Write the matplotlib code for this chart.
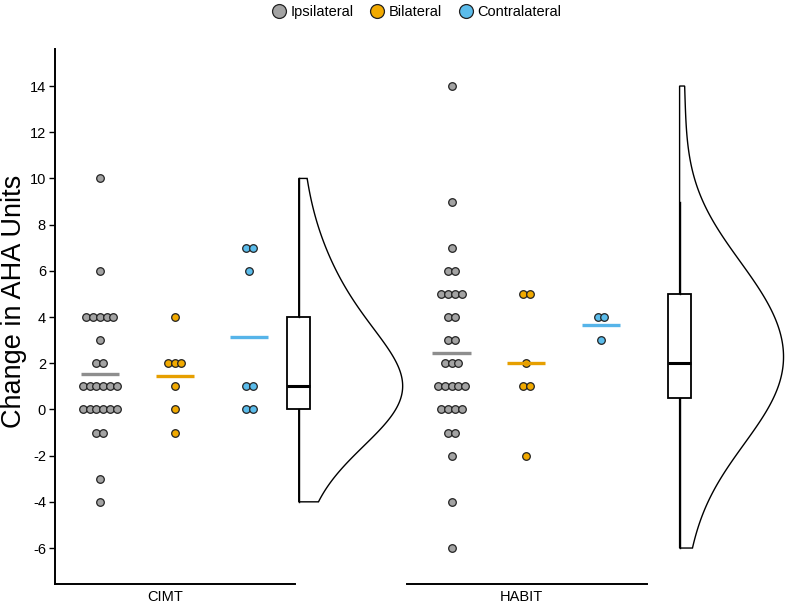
"""
Raincloud-style chart: change in AHA units by therapy (CIMT / HABIT)
and side of lesion (ipsilateral / bilateral / contralateral).
Run: python plot.py
"""

import numpy as np
import matplotlib
matplotlib.use("Agg")
import matplotlib.pyplot as plt
from matplotlib.lines import Line2D
from matplotlib.patches import Polygon

plt.rcParams["font.family"] = ["Liberation Sans", "DejaVu Sans"]
plt.rcParams["axes.unicode_minus"] = False

# ── Data ──
therapies = ["CIMT", "HABIT"]
groups = ["Ipsilateral", "Bilateral", "Contralateral"]

cimt_ipsi = [10, 6, 4, 4, 4, 4, 4, 3, 2, 2, 1, 1, 1, 1, 1, 1,
             0, 0, 0, 0, 0, 0, -1, -1, -3, -4]
cimt_bil = [4, 2, 2, 2, 1, 0, -1]
cimt_con = [7, 7, 6, 1, 1, 0, 0]

habit_ipsi = [14, 9, 7, 6, 6, 5, 5, 5, 5, 4, 4, 3, 3, 2, 2, 2,
              1, 1, 1, 1, 1, 0, 0, 0, 0, -1, -1, -2, -4, -6]
habit_bil = [5, 5, 2, 1, 1, -2]
habit_con = [4, 4, 3]

data = {
    "CIMT": [cimt_ipsi, cimt_bil, cimt_con],
    "HABIT": [habit_ipsi, habit_bil, habit_con],
}

y_ticks = [-6, -4, -2, 0, 2, 4, 6, 8, 10, 12, 14]

# ── Style ──
DOT_FILL = ["#A3A3A3", "#F2AA00", "#5BBCEB"]
LINE_COL = ["#8E8E8E", "#E69F00", "#56B4E9"]
EDGE = "#222222"
BOX_POS = {"CIMT": 2.66, "HABIT": 3.05}
LABEL_POS = {"CIMT": 0.87, "HABIT": 0.93}
XLIM = (-0.6, 2.61)
YLIM = (-7.57, 15.59)
DOT_STEP = 0.091
VIOLIN_W = 1.39
BW_ADJUST = 1.75


def nrd0(x):
    x = np.asarray(x, float)
    q75, q25 = np.percentile(x, [75, 25])
    s = min(np.std(x, ddof=1), (q75 - q25) / 1.34)
    return 0.9 * s * len(x) ** -0.2


def kde(x, grid):
    x = np.asarray(x, float)
    bw = nrd0(x) * BW_ADJUST
    z = (grid[:, None] - x[None, :]) / bw
    return np.exp(-0.5 * z ** 2).sum(axis=1) / (len(x) * bw * np.sqrt(2 * np.pi))


def main():
    W, H = 787, 604
    fig = plt.figure(figsize=(W / 100, H / 100), dpi=100)

    panel_left = [55, 406.7]
    panel_w = 240
    bottom_px, top_px = 584.3, 49.3

    axes = []
    for i, th in enumerate(therapies):
        ax = fig.add_axes([panel_left[i] / W, 1 - bottom_px / H,
                           panel_w / W, (bottom_px - top_px) / H])
        axes.append(ax)
        ax.set_xlim(*XLIM)
        ax.set_ylim(*YLIM)
        for s in ["top", "right"]:
            ax.spines[s].set_visible(False)
        ax.spines["bottom"].set_linewidth(1.4)
        ax.spines["left"].set_linewidth(1.4)
        ax.set_xticks([LABEL_POS[th]])
        ax.set_xticklabels([th], fontsize=10.5)
        ax.tick_params(axis="x", length=0, pad=4)

        # dots, stacked sideways per value
        for g, vals in enumerate(data[th]):
            xs, ys = [], []
            for v in sorted(set(vals), reverse=True):
                k = vals.count(v)
                for j in range(k):
                    xs.append(g + (j - (k - 1) / 2) * DOT_STEP)
                    ys.append(v)
            ax.scatter(xs, ys, s=30, facecolor=DOT_FILL[g], edgecolor=EDGE,
                       linewidth=0.9, zorder=3)
            m = np.mean(vals)
            ax.plot([g - 0.255, g + 0.255], [m, m], color=LINE_COL[g], lw=2.4,
                    solid_capstyle="butt", zorder=4)

        # half violin + box over all values of the therapy
        allv = sum(data[th], [])
        pos = BOX_POS[th]
        grid = np.linspace(min(allv), max(allv), 512)
        dens = kde(allv, grid)
        dens = dens / dens.max() * VIOLIN_W
        verts = [(pos, grid[0])] + list(zip(pos + dens, grid)) + [(pos, grid[-1])]
        ax.add_patch(Polygon(verts, closed=True, facecolor="white",
                             edgecolor="black", lw=1.0, clip_on=False, zorder=2))
        bp = ax.boxplot([allv], positions=[pos], widths=0.31, showfliers=False,
                        showcaps=False, patch_artist=True, manage_ticks=False)
        for b in bp["boxes"]:
            b.set(facecolor="white", edgecolor="black", lw=1.3, clip_on=False, zorder=5)
        for w in bp["whiskers"]:
            w.set(color="black", lw=1.0, clip_on=False, zorder=5)
        for md in bp["medians"]:
            md.set(color="black", lw=2.2, clip_on=False, zorder=6)

    ax0, ax1 = axes
    ax0.set_yticks(y_ticks)
    ax0.set_yticklabels([str(t) for t in y_ticks], fontsize=10.5)
    ax0.tick_params(axis="y", length=4.5, width=1.0, pad=2)
    ax0.set_ylabel("Change in AHA Units", fontsize=19.5)
    ax0.yaxis.set_label_coords(-0.118, 0.528)

    ax1.spines["left"].set_visible(False)
    ax1.set_yticks([])

    handles = [Line2D([], [], marker="o", ls="none", markersize=10,
                      markerfacecolor=DOT_FILL[g], markeredgecolor=EDGE,
                      markeredgewidth=0.9, label=groups[g]) for g in range(3)]
    fig.legend(handles=handles, loc="center", bbox_to_anchor=(416 / W, 1 - 12 / H),
               ncol=3, frameon=False, fontsize=10.5, handletextpad=0.2,
               columnspacing=1.0, handlelength=1.2)

    fig.savefig("out.png", dpi=100)


if __name__ == "__main__":
    main()
